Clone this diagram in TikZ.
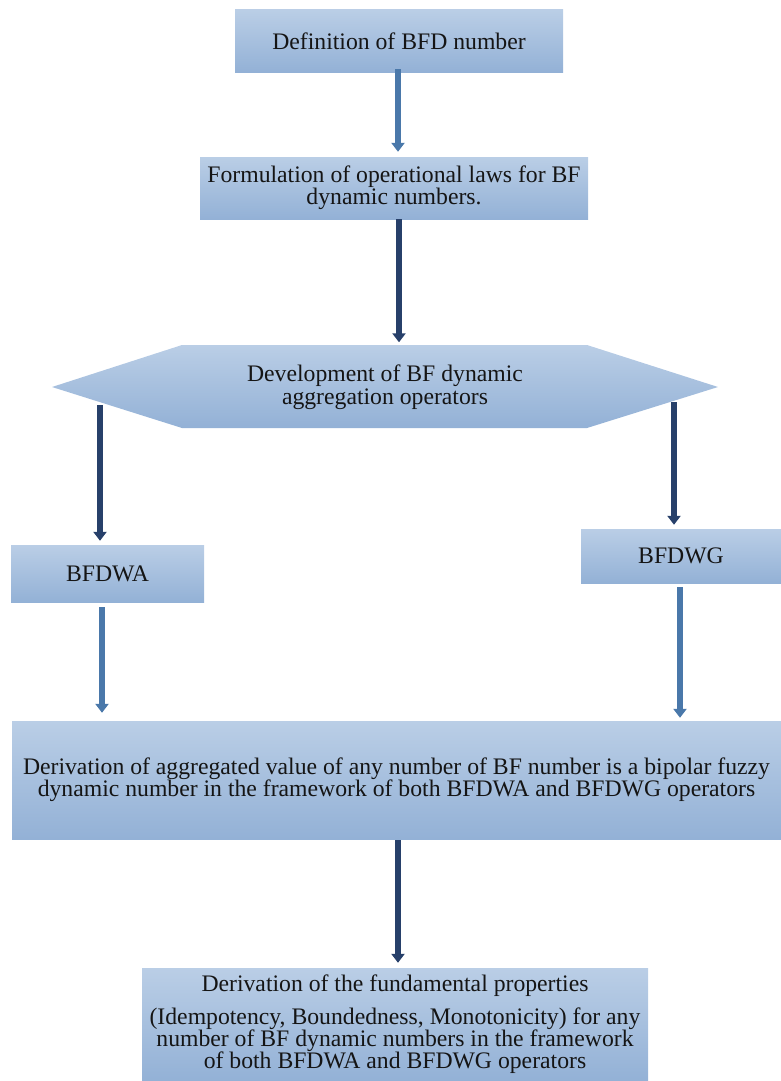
\documentclass[tikz,border=0pt]{standalone}
\usepackage{fontspec}
\setmainfont{Liberation Serif}
\usetikzlibrary{arrows.meta,calc}
\definecolor{boxtop}{HTML}{BACEE6}
\definecolor{boxbot}{HTML}{93B1D6}
\definecolor{steelarrow}{HTML}{4A78AA}
\definecolor{darkarrow}{HTML}{27406A}
\definecolor{txt}{HTML}{151515}
\begin{document}
\begin{tikzpicture}[x=1pt,y=-1pt,
  box/.style={rectangle, top color=boxtop, bottom color=boxbot, draw=none, inner sep=0pt,
    align=center, text=txt, font=\fontsize{23.7}{22}\selectfont},
  hextext/.style={rectangle, draw=none, inner sep=0pt, minimum width=666pt, minimum height=83pt,
    align=center, text=txt, font=\fontsize{23.7}{23}\selectfont},
  steelarr/.style={line width=6pt, draw=steelarrow, -{Triangle[width=13pt,length=9pt]}},
  darkarr/.style={line width=6pt, draw=darkarrow, -{Triangle[width=13pt,length=9pt]}},
]
\useasboundingbox (0,0) rectangle (781,1081);

% nodes
\node[box, minimum width=328pt, minimum height=62pt] (def) at (399,41) {Definition of BFD number};
\node[box, minimum width=388pt, minimum height=62pt] (form) at (394,188)
  {Formulation of operational laws for BF\\dynamic numbers.};

\shade[top color=boxtop, bottom color=boxbot]
  (52,387) -- (182,345) -- (587,345) -- (718,387) -- (587,428) -- (182,428) -- cycle;
\node[hextext] (dev) at (385,387) {Development of BF dynamic\\aggregation operators};
\coordinate (devL) at (100,405);
\coordinate (devR) at (674,402);

\node[box, minimum width=193pt, minimum height=57pt] (bfdwa) at (107.5,573.5) {BFDWA};
\node[box, minimum width=200pt, minimum height=54pt] (bfdwg) at (681,556) {BFDWG};

\node[box, minimum width=769pt, minimum height=118pt] (agg) at (396.5,780)
  {Derivation of aggregated value of any number of BF number is a bipolar fuzzy\\
   dynamic number in the framework of both BFDWA and BFDWG operators};

\node[box, minimum width=506pt, minimum height=113pt] (prop) at (395,1024.5)
  {Derivation of the fundamental properties\\[11pt]
   (Idempotency, Boundedness, Monotonicity) for any\\
   number of BF dynamic numbers in the framework\\
   of both BFDWA and BFDWG operators};

% connectors
\draw[steelarr, shorten <=-3pt, shorten >=5pt] ([xshift=-1pt]def.south) -- ([xshift=-1pt]def.south |- form.north);
\draw[darkarr, shorten >=3pt] ([xshift=5pt]form.south) -- ([xshift=5pt]form.south |- dev.north);
\draw[darkarr, shorten >=4pt] (devL) -- (devL |- bfdwa.north);
\draw[darkarr, shorten >=4pt] (devR) -- (devR |- bfdwg.north);
\draw[steelarr, shorten <=5pt, shorten >=8pt] ([xshift=-5.5pt]bfdwa.south) -- ([xshift=-5.5pt]bfdwa.south |- agg.north);
\draw[steelarr, shorten <=4pt, shorten >=3pt] ([xshift=-1pt]bfdwg.south) -- ([xshift=-1pt]bfdwg.south |- agg.north);
\draw[darkarr, shorten <=1pt, shorten >=5pt] ([xshift=1.5pt]agg.south) -- ([xshift=1.5pt]agg.south |- prop.north);
\end{tikzpicture}
\end{document}
